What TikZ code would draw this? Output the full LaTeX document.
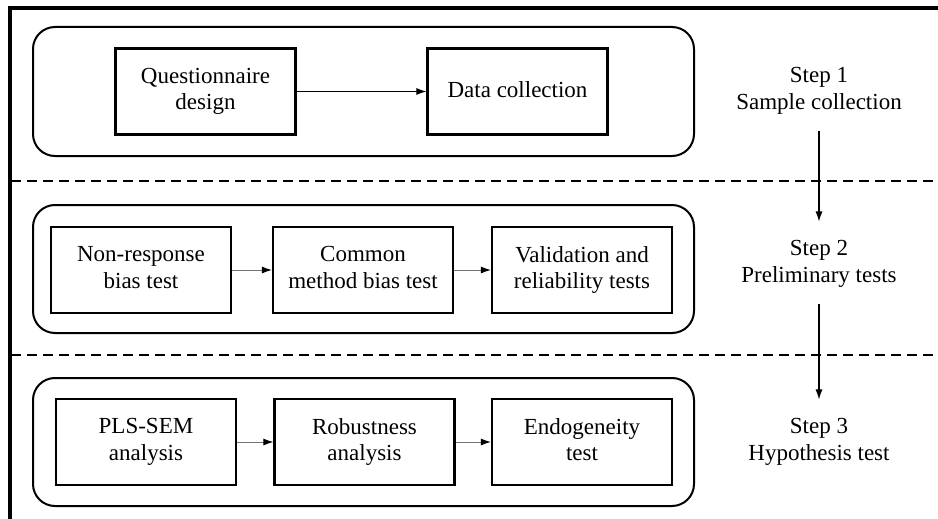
\documentclass[tikz,border=0pt]{standalone}
\usepackage{fontspec}
\setmainfont{Liberation Serif}
\usetikzlibrary{arrows.meta}
\newcommand\lblstrut{\rule[-4.75pt]{0pt}{21.75pt}}
\begin{document}
\begin{tikzpicture}[x=1pt,y=-1pt,
  txt/.style={font=\fontsize{23}{26.5}\selectfont, align=center, execute at begin node=\lblstrut, execute at end node=\lblstrut},
  procbox/.style={txt, draw, line width=2.2pt, minimum width=180pt, minimum height=86pt, inner sep=0pt},
  stagebox/.style={draw, line width=2pt, rounded corners=22pt},
  steplabel/.style={txt, inner sep=0pt},
  flow/.style={-{Latex[length=10pt,width=7pt]}, line width=1.1pt},
  softflow/.style={-{Latex[length=10pt,width=7pt,color=black]}, line width=1pt, draw=black!55},
  divider/.style={dashed, dash pattern=on 10pt off 6pt, line width=2pt},
  frame/.style={line width=3.5pt}
]
\useasboundingbox (0,0) rectangle (938,519);
% outer frame (top and left edges)
\draw[frame] (938,8) -- (10,8) -- (10,519);
% dividers
\draw[divider] (11,181) -- (938,181);
\draw[divider] (11,355) -- (938,355);
% stage boxes
\draw[stagebox] (33,27) rectangle (694,156);
\draw[stagebox] (33,205) rectangle (694,333);
\draw[stagebox] (33,378) rectangle (694,506);
% step 1
\node[procbox] (qd) at (205.5,91.5) {Questionnaire\\design};
\node[procbox] (dc) at (517.5,91.5) {Data collection};
\draw[flow] (qd.east) -- (dc.west);
% step 2
\node[procbox] (nr) at (141,270) {Non-response\\bias test};
\node[procbox] (cm) at (363,270) {Common\\method bias test};
\node[procbox] (vr) at (582,270) {Validation and\\reliability tests};
\draw[softflow] (nr.east) -- (cm.west);
\draw[softflow] (cm.east) -- (vr.west);
% step 3
\node[procbox] (pls) at (146,442) {PLS-SEM\\analysis};
\node[procbox] (rob) at (364.5,442) {Robustness\\analysis};
\node[procbox] (end) at (582,442) {Endogeneity\\test};
\draw[softflow] (pls.east) -- (rob.west);
\draw[softflow] (rob.east) -- (end.west);
% step labels
\node[steplabel] (s1) at (819,91) {Step 1\\Sample collection};
\node[steplabel] (s2) at (819,264) {Step 2\\Preliminary tests};
\node[steplabel] (s3) at (819,442) {Step 3\\Hypothesis test};
\draw[flow, shorten <=16pt, shorten >=19pt] (s1.south) -- (s2.north);
\draw[flow, shorten <=16pt, shorten >=19pt] (s2.south) -- (s3.north);
\end{tikzpicture}
\end{document}
